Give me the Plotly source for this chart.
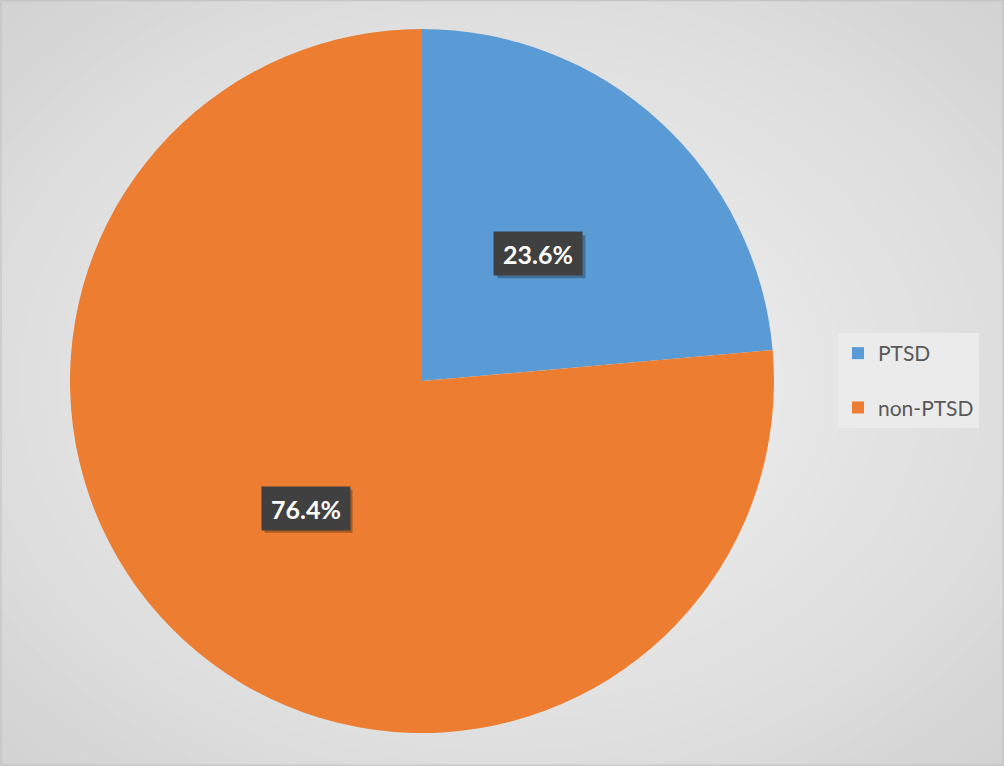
import math
import plotly.graph_objects as go

categories = ["PTSD", "non-PTSD"]
values = [23.6, 76.4]
colors = ["#5B9BD5", "#ED7D31"]
label_texts = ["23.6%", "76.4%"]

W, H = 1004, 766
cx, cy, R = 422, 381, 352

fig = go.Figure()

# background radial gradient via concentric ellipses
n = 40
outer = (203, 203, 203)
inner = (243, 243, 243)
shapes = [dict(type="rect", xref="paper", yref="paper", x0=0, y0=0, x1=1, y1=1,
               fillcolor="rgb(%d,%d,%d)" % outer, line=dict(width=0), layer="below")]
for i in range(n):
    t = i / (n - 1)
    s = 0.78 * (1 - t) + 0.02
    col = tuple(int(round(o + (inn - o) * (t ** 0.8))) for o, inn in zip(outer, inner))
    shapes.append(dict(type="circle", xref="paper", yref="paper",
                       x0=0.5 - s, x1=0.5 + s, y0=0.5 - s, y1=0.5 + s,
                       fillcolor="rgb(%d,%d,%d)" % col, line=dict(width=0), layer="below"))
shapes.append(dict(type="rect", xref="paper", yref="paper", x0=0.001, y0=0.001, x1=0.999, y1=0.999,
                   line=dict(color="#BFBFBF", width=1), fillcolor="rgba(0,0,0,0)", layer="above"))

fig.add_trace(go.Pie(
    labels=categories, values=values, sort=False, direction="clockwise", rotation=0,
    marker=dict(colors=colors, line=dict(width=0)),
    textinfo="none", hoverinfo="label+percent", showlegend=False,
    domain=dict(x=[(cx - R) / W, (cx + R) / W], y=[1 - (cy + R) / H, 1 - (cy - R) / H]),
))

# legend entries
for i, (c, col) in enumerate(zip(categories, colors)):
    fig.add_trace(go.Scatter(x=[None], y=[None], mode="markers", name=c,
                             legendgroup=c,
                             marker=dict(symbol="square", size=12, color=col)))

annotations = []
total = sum(values)
cum = 0
bw, bh = 88, 43
for v, txt in zip(values, label_texts):
    mid = (cum + v / 2) / total * 2 * math.pi
    cum += v
    px = cx + 0.49 * R * math.sin(mid)
    py = cy - 0.49 * R * math.cos(mid)
    xp, yp = px / W, 1 - py / H
    # drop shadow
    shapes.append(dict(type="rect", xref="paper", yref="paper",
                       x0=(px - bw / 2 + 3) / W, x1=(px + bw / 2 + 3) / W,
                       y0=1 - (py + bh / 2 + 3) / H, y1=1 - (py - bh / 2 + 3) / H,
                       fillcolor="rgba(0,0,0,0.28)", line=dict(width=0), layer="above"))
    annotations.append(dict(x=xp, y=yp, xref="paper", yref="paper", text="<b>%s</b>" % txt,
                            showarrow=False, width=bw - 14, height=bh - 14,
                            xanchor="center", yanchor="middle",
                            font=dict(family="Lato", size=25, color="white"),
                            bgcolor="#404040", borderpad=7))

fig.update_layout(
    width=W, height=H,
    margin=dict(l=0, r=0, t=0, b=0),
    paper_bgcolor="rgb(203,203,203)",
    plot_bgcolor="rgba(0,0,0,0)",
    xaxis=dict(visible=False), yaxis=dict(visible=False),
    shapes=shapes,
    annotations=annotations,
    showlegend=True,
    legend=dict(x=838 / W, y=1 - 333 / H, xanchor="left", yanchor="top",
                bgcolor="#EBEBEB", font=dict(family="Lato", size=21, color="#595959"),
                tracegroupgap=24, itemclick=False, itemdoubleclick=False),
)

fig.write_html("out.html", config={"displayModeBar": False},
               post_script="document.body.style.margin='0px';")
